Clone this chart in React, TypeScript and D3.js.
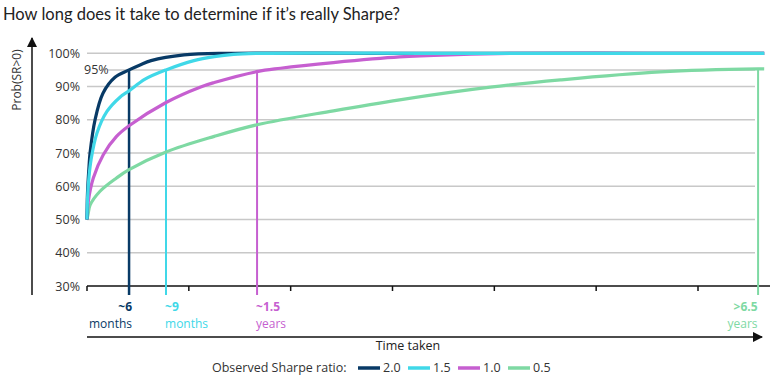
import React from "react";
import * as d3 from "d3";

// ---- data (time in years, probability in %) ----
const sr20Time = [0, 0.005, 0.02, 0.03, 0.079, 0.157, 0.275, 0.413, 0.521, 0.629, 0.953, 1.405, 3, 6.65];
const sr20Prob = [50, 58, 66, 70, 80, 88, 92.8, 95, 96.5, 97.8, 99.5, 100, 100, 100];
const sr15Time = [0, 0.005, 0.02, 0.04, 0.098, 0.196, 0.324, 0.413, 0.57, 0.776, 1.05, 1.25, 1.44, 1.7, 3.5, 6.65];
const sr15Prob = [50, 56, 63, 68, 76, 82.5, 86.8, 88.7, 92.2, 95, 97.8, 99, 99.7, 100, 100, 100];
const sr10Time = [0, 0.013, 0.062, 0.16, 0.29, 0.413, 0.776, 1.11, 1.25, 1.67, 1.9, 2.42, 3.07, 3.63, 4.2, 5.5, 6.65];
const sr10Prob = [50, 55.5, 62.5, 69.5, 75, 78.2, 85.2, 89.8, 91.2, 94.5, 95.5, 97.2, 98.9, 99.6, 100, 100, 100];
const sr05Time = [0, 0.01, 0.03, 0.128, 0.29, 0.413, 0.776, 1.25, 1.67, 2.42, 3.07, 3.96, 4.65, 5.63, 6.59, 6.65];
const sr05Prob = [50, 51.5, 54.3, 58.5, 62.5, 65, 70.3, 75, 78.5, 82.7, 86, 89.8, 92, 94.4, 95.3, 95.3];

const seriesNames = ["2.0", "1.5", "1.0", "0.5"];
const seriesColors = ["#083a66", "#40d8e8", "#c65fd0", "#7ed9a3"];
const seriesTimes = [sr20Time, sr15Time, sr10Time, sr05Time];
const seriesProbs = [sr20Prob, sr15Prob, sr10Prob, sr05Prob];
const drawOrder = [3, 2, 0, 1];

// time at which each curve is marked at 95%
const markerTimes = [0.413, 0.776, 1.67, 6.59];
const markerTop = ["~6", "~9", "~1.5", ">6.5"];
const markerBottom = ["months", "months", "years", "years"];
const markerAnchor = ["end", "start", "start", "end"];

const yTicks = [30, 40, 50, 60, 70, 80, 90, 100];
const xTicks = [0, 1, 2, 3, 4, 5, 6];

const FONT = "'Open Sans', 'Noto Sans', sans-serif";

export default function App() {
  const x = d3.scaleLinear().domain([0, 6]).range([87, 698]);
  const y = d3.scaleLinear().domain([30, 100]).range([286, 53.3]);
  const line = d3
    .line<[number, number]>()
    .x((d) => x(d[0]))
    .y((d) => y(d[1]))
    .curve(d3.curveCatmullRom.alpha(0.5));

  const gridRight = 755;

  return (
    <svg
      width={770}
      height={378}
      style={{ position: "absolute", left: 0, top: 0, background: "#fff" }}
      fontFamily={FONT}
    >
      <defs>
        <marker id="arr" viewBox="0 0 10 10" refX="9" refY="5" markerWidth="7" markerHeight="7" orient="auto">
          <path d="M0,0 L10,5 L0,10 z" fill="#111" />
        </marker>
      </defs>
      <text x={3} y={20} fontSize={16.5} fill="#222" fontFamily="Lato, 'Open Sans', sans-serif">
        How long does it take to determine if it’s really Sharpe?
      </text>

      {/* y axis arrow */}
      <line x1={32} y1={295} x2={32} y2={38} stroke="#111" strokeWidth={1.5} markerEnd="url(#arr)" />
      <text transform={`translate(21,80) rotate(-90)`} textAnchor="middle" fontSize={12} fill="#333">
        Prob(SR&gt;0)
      </text>

      {/* gridlines */}
      {yTicks
        .filter((t) => t > 30)
        .map((t) => (
          <line key={t} x1={x(0)} x2={gridRight} y1={y(t)} y2={y(t)} stroke="#c8c8c8" strokeWidth={1.5} />
        ))}
      <line x1={108} x2={gridRight} y1={y(95)} y2={y(95)} stroke="#c8c8c8" strokeWidth={1.5} />
      <text x={84} y={y(95) + 4.5} fontSize={12.5} fill="#333">95%</text>

      {yTicks.map((t) => (
        <text key={t} x={80} y={y(t) + 4.5} textAnchor="end" fontSize={12.5} fill="#333">
          {t}%
        </text>
      ))}

      {/* x axis (plot) */}
      <line x1={x(0)} x2={770} y1={y(30)} y2={y(30)} stroke="#111" strokeWidth={1.5} />
      {xTicks.map((t) => (
        <line key={t} x1={x(t)} x2={x(t)} y1={y(30)} y2={y(30) + 5} stroke="#111" strokeWidth={1.5} />
      ))}

      {/* markers */}
      {markerTimes.map((t, i) => (
        <line
          key={i}
          x1={x(t)}
          x2={x(t)}
          y1={y(95)}
          y2={295}
          stroke={seriesColors[i]}
          strokeWidth={i === 0 ? 2.5 : 2}
        />
      ))}

      {/* curves */}
      {drawOrder.map((i) => {
        const pts = seriesTimes[i].map((t, j) => [t, seriesProbs[i][j]] as [number, number]);
        return <path key={i} d={line(pts) || ""} fill="none" stroke={seriesColors[i]} strokeWidth={3.2} />;
      })}

      {/* marker labels */}
      {markerTimes.map((t, i) => {
        const ax = markerAnchor[i] === "end" ? x(t) + (i === 3 ? -0.5 : 3) : x(t) - 1;
        return (
          <g key={i} fill={seriesColors[i]} fontSize={12} textAnchor={markerAnchor[i]}>
            <text x={ax} y={311} fontWeight={700}>{markerTop[i]}</text>
            <text x={ax} y={327.5} fontWeight={500}>{markerBottom[i]}</text>
          </g>
        );
      })}

      {/* bottom arrow */}
      <line x1={x(0)} x2={762} y1={337} y2={337} stroke="#111" strokeWidth={1.5} markerEnd="url(#arr)" />
      <text x={408} y={350} textAnchor="middle" fontSize={12.5} fill="#222">Time taken</text>

      {/* legend */}
      <text x={212} y={372} fontSize={12.5} fill="#333">Observed Sharpe ratio:</text>
      {seriesNames.map((n, i) => {
        const lx = 358 + i * 50;
        return (
          <g key={n}>
            <line x1={lx} x2={lx + 22} y1={368} y2={368} stroke={seriesColors[i]} strokeWidth={3.5} />
            <text x={lx + 25} y={372} fontSize={12.5} fill="#333">{n}</text>
          </g>
        );
      })}
    </svg>
  );
}
